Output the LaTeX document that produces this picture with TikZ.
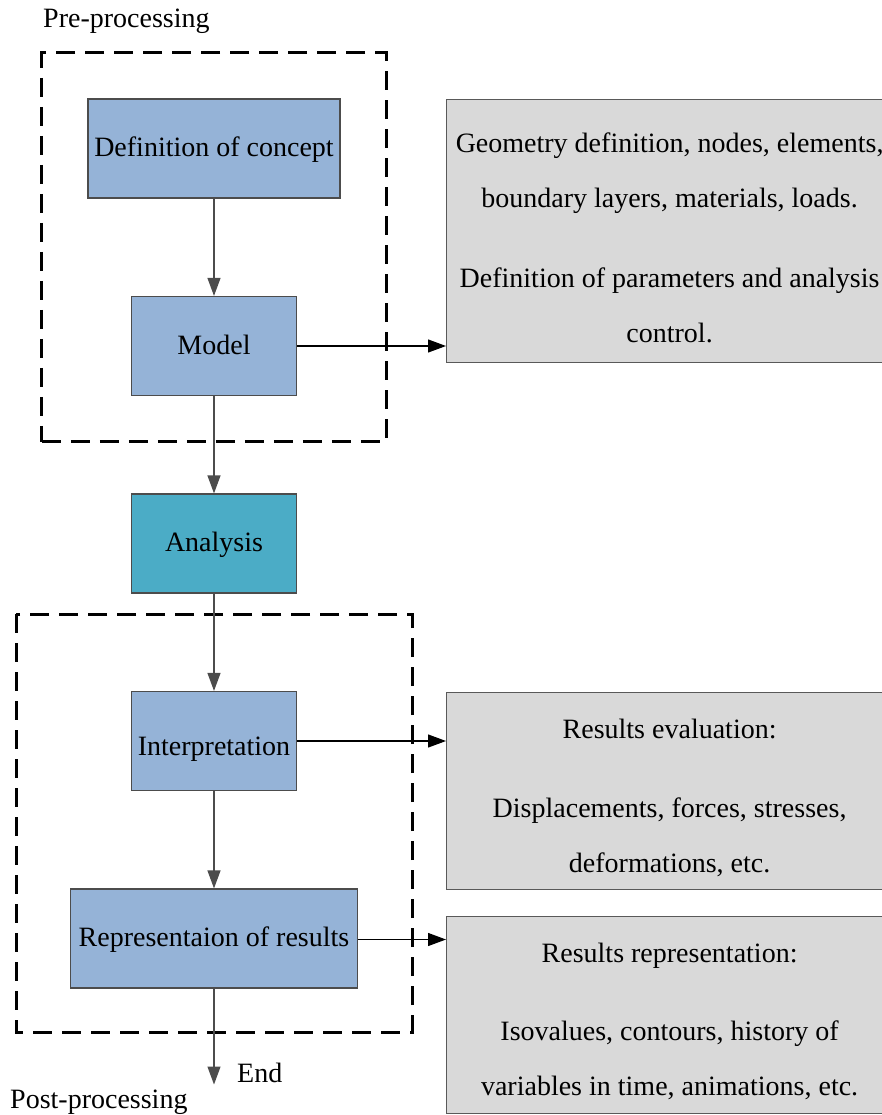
\documentclass[tikz,border=0pt]{standalone}
\usepackage{fontspec}
\setmainfont{Liberation Serif}
\usetikzlibrary{arrows.meta,positioning,fit,calc}
\definecolor{stepblue}{RGB}{149,179,215}
\definecolor{steptea}{RGB}{75,172,198}
\definecolor{infogray}{RGB}{217,217,217}
\tikzset{
  stepnode/.style={
    rectangle,
    draw=black!70,
    line width=1.2pt,
    fill=#1,
    minimum height=99pt,
    inner sep=0pt,
    text height=20pt,
    text depth=4pt,
    font=\fontsize{28}{34}\selectfont
  },
  infobox/.style={
    rectangle,
    draw=black!65,
    line width=1.2pt,
    fill=infogray,
    minimum width=446pt,
    align=center,
    anchor=north west,
    font=\fontsize{28}{55}\selectfont
  },
  groupbox/.style={
    draw=black,
    line width=3pt,
    dash pattern=on 19pt off 10pt
  },
  flow/.style={draw=black!70, line width=1.2pt},
  side/.style={draw=black, line width=1.2pt},
  caption/.style={anchor=base west, inner sep=0pt, font=\fontsize{28}{34}\selectfont}
}
\def\rowsep{197.5pt}
\def\infoleft{446}
\newcommand{\toppad}{\rule{0pt}{33pt}}

\begin{document}
\begin{tikzpicture}[x=1pt, y=-1pt, >={Triangle[length=18pt, width=13pt]}, node distance=\rowsep]
    \useasboundingbox (0,0) rectangle (882,1115);

    %% Main chain
    \node[stepnode=stepblue, minimum width=252pt] (concept) at (214,148.5) {Definition of concept};
    \node[stepnode=stepblue, minimum width=165pt, below of=concept] (model) {Model};
    \node[stepnode=steptea, minimum width=165pt, below of=model] (analysis) {Analysis};
    \node[stepnode=stepblue, minimum width=165pt, text height=28pt, text depth=0pt, below of=analysis] (interp) {Interpretation};
    \node[stepnode=stepblue, minimum width=287pt, below of=interp] (repres) {Representaion of results};
    \coordinate[below of=repres, node distance=146pt] (end);
    \node[caption] (endlabel) at (237,1082) {End};

    %% Groups
    \node[groupbox, fit=(concept)(model), inner sep=45.5pt] (pre) {};
    \draw[groupbox] (16,614) rectangle (412,1032);
    \node[caption] (prelabel) at (43,28) {Pre-processing};
    \node[caption] (postlabel) at (10,1108) {Post-processing};

    %% Side boxes
    \node[infobox, minimum height=263pt] (geom) at (\infoleft,99)
      {\toppad Geometry definition, nodes, elements,\\boundary layers, materials, loads.\\[25pt]
       Definition of parameters and analysis\\control.};
    \node[infobox, minimum height=197pt] (evaluation) at (\infoleft,692)
      {\toppad Results evaluation:\\[24pt]Displacements, forces, stresses,\\deformations, etc.};
    \node[infobox, minimum height=197pt] (representation) at (\infoleft,916)
      {\toppad Results representation:\\[23pt]Isovalues, contours, history of\\variables in time, animations, etc.};

    %% Edges
    \draw[flow, ->] (concept) -- (model);
    \draw[flow, ->] (model) -- (analysis);
    \draw[flow, ->] (analysis) -- (interp);
    \draw[flow, ->] (interp) -- (repres);
    \draw[flow, ->] (repres) -- (end);
    \draw[side, ->] (model.east) -- (model.east -| geom.west);
    \draw[side, ->] (interp.east) -- (interp.east -| evaluation.west);
    \draw[side, ->] ([yshift=-1pt]repres.east) -- ([yshift=-1pt]repres.east -| representation.west);

\end{tikzpicture}
\end{document}
